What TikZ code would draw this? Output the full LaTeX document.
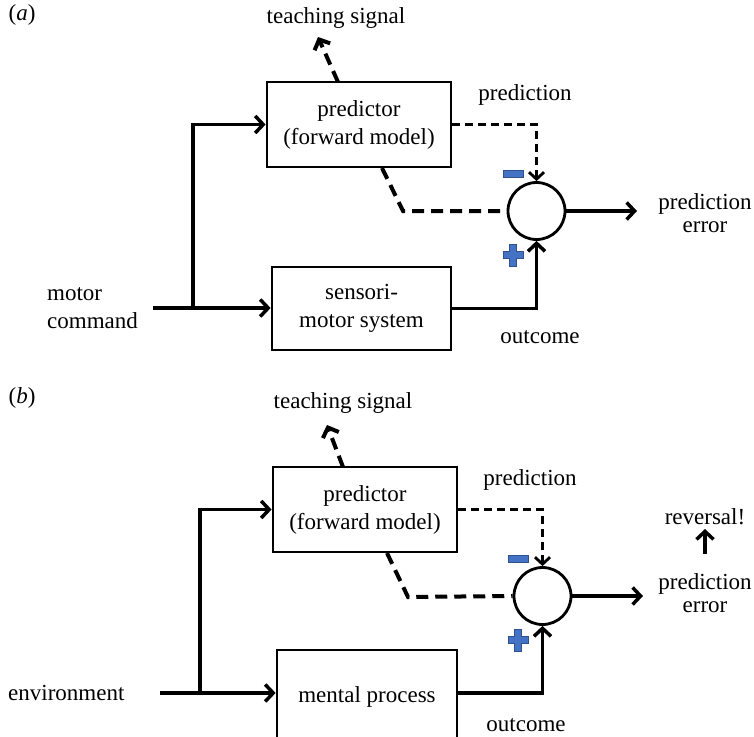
\documentclass[tikz,border=0pt]{standalone}
\usepackage{fontspec}
\setmainfont{Liberation Serif}
\usetikzlibrary{arrows.meta}
\definecolor{signfill}{RGB}{68,114,196}
\definecolor{signedge}{RGB}{47,82,143}
\begin{document}
\begin{tikzpicture}[x=1pt,y=-1pt,
  every node/.style={font=\fontsize{23}{28}\selectfont, inner sep=0pt},
  block/.style={draw, line width=2.8pt, align=center, fill=white},
  sumnode/.style={draw, circle, line width=2.8pt, minimum size=57pt},
  arr/.style={line width=3.5pt, -{Straight Barb[length=8pt,width=17pt]}},
  thindash/.style={line width=2.8pt, dash pattern=on 8pt off 5pt, -{Straight Barb[length=7pt,width=15pt]}},
  thickdash/.style={line width=4pt, dash pattern=on 12pt off 7pt},
  thickdasharr/.style={thickdash, -{Straight Barb[length=8pt,width=17pt]}},
  twoline/.style={align=center, font=\fontsize{23}{23}\selectfont},
  signstyle/.style={fill=signfill, draw=signedge, line width=1pt},
  plussign/.pic={\filldraw[signstyle] (-3.5,-11) -- (3.5,-11) -- (3.5,-3.5) -- (10,-3.5) -- (10,3.5) -- (3.5,3.5) -- (3.5,11) -- (-3.5,11) -- (-3.5,3.5) -- (-10,3.5) -- (-10,-3.5) -- (-3.5,-3.5) -- cycle;},
  minussign/.pic={\filldraw[signstyle] (-10,-3.5) rectangle (10,3.5);}
  ]
\useasboundingbox (0,0) rectangle (754,736);
\clip (0,0) rectangle (754,736);

% ---------------- panel (a) ----------------
\node (laba) at (22,15) {(\textit{a})};
\node (teacha) at (336,18) {teaching signal};
\node[block, minimum width=184pt, minimum height=85pt] (preda) at (359,124.5) {predictor\\(forward model)};
\node[block, minimum width=179pt, minimum height=83pt] (sensa) at (361.5,308.5) {sensori-\\motor system};
\node[sumnode] (suma) at (536.5,211) {};
\node (predlaba) at (525,95) {prediction};
\node (outa) at (540,337) {outcome};
\node[twoline] (pea) at (705,213) {prediction\\error};
\node[align=left, anchor=west] (mca) at (47,308) {motor\\command};

\coordinate (ina) at (153,308);
\coordinate (bra) at (193,308);
\coordinate (tsa) at (338,82);
\coordinate (tea) at (318,37);
\coordinate (dsa) at (382,168);
\coordinate (dka) at (403,211);
\coordinate (outenda) at (637,211);

\draw[arr] (ina) -- (ina -| sensa.west);
\draw[arr] (bra) |- (preda.west);
\draw[thickdasharr] (tsa) -- (tea);
\draw[thindash] (preda.east) -| (suma.north);
\draw[thickdash] (dsa) -- (dka) -- (suma.west);
\draw[arr] (sensa.east) -| (suma.south);
\draw[arr] (suma.east) -- (outenda);
\pic at (513,173.5) {minussign};
\pic at (513,255) {plussign};

% ---------------- panel (b) ----------------
\node (labb) at (22,398) {(\textit{b})};
\node (teachb) at (343,403) {teaching signal};
\node[block, minimum width=184pt, minimum height=85pt] (predb) at (365,509.5) {predictor\\(forward model)};
\node[block, minimum width=180pt, minimum height=90pt, text depth=0pt] (mentb) at (367,695) {mental process};
\node[sumnode] (sumb) at (542.5,596) {};
\node (predlabb) at (530,480) {prediction};
\node (outb) at (526,725) {outcome};
\node[twoline] (peb) at (705,593) {prediction\\error};
\node (revb) at (705,517) {reversal!};
\node[anchor=west] (envb) at (8,693) {environment};

\coordinate (inb) at (160,693);
\coordinate (brb) at (200,693);
\coordinate (tsb) at (343,467);
\coordinate (teb) at (327,425);
\coordinate (dsb) at (387,553);
\coordinate (dkb) at (408,597);
\coordinate (outendb) at (643,596);
\coordinate (revs) at (705,554);
\coordinate (reve) at (705,529);

\draw[arr] (inb) -- (inb -| mentb.west);
\draw[arr] (brb) |- (predb.west);
\draw[thickdasharr] (tsb) -- (teb);
\draw[thindash] (predb.east) -| (sumb.north);
\draw[thickdash] (dsb) -- (dkb) -- (sumb.west);
\draw[arr] (mentb.east |- inb) -| (sumb.south);
\draw[arr] (sumb.east) -- (outendb);
\draw[arr] (revs) -- (reve);
\pic at (518,558.5) {minussign};
\pic at (518,640) {plussign};
\end{tikzpicture}
\end{document}
